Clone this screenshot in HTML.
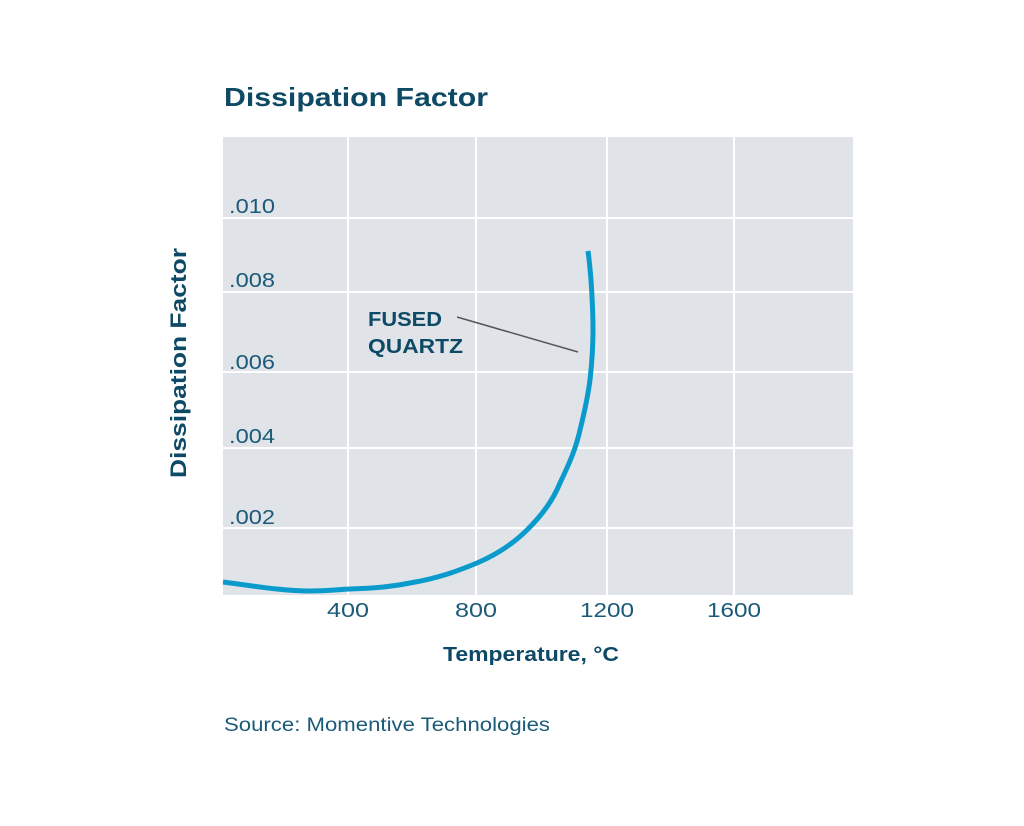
<!DOCTYPE html>
<html><head><style>
body{margin:0;background:#fff;width:1024px;height:821px;overflow:hidden;font-family:"Liberation Sans",sans-serif;}
</style></head><body>
<svg width="1024" height="821" xmlns="http://www.w3.org/2000/svg" font-family="Liberation Sans">
<text x="224" y="106" font-size="26" font-weight="bold" fill="#0e4a66" textLength="264" lengthAdjust="spacingAndGlyphs">Dissipation Factor</text>
<rect x="223" y="137" width="630" height="458" fill="#e0e4e8"/>
<g stroke="#fff" stroke-width="2">
<line x1="348" y1="137" x2="348" y2="595"/>
<line x1="476" y1="137" x2="476" y2="595"/>
<line x1="607" y1="137" x2="607" y2="595"/>
<line x1="734" y1="137" x2="734" y2="595"/>
<line x1="223" y1="218" x2="853" y2="218"/>
<line x1="223" y1="292" x2="853" y2="292"/>
<line x1="223" y1="372" x2="853" y2="372"/>
<line x1="223" y1="448" x2="853" y2="448"/>
<line x1="223" y1="528" x2="853" y2="528"/>
</g>
<g font-size="20" fill="#1b5a78">
<text x="229" y="213" textLength="46" lengthAdjust="spacingAndGlyphs">.010</text>
<text x="229" y="287" textLength="46" lengthAdjust="spacingAndGlyphs">.008</text>
<text x="229" y="369" textLength="46" lengthAdjust="spacingAndGlyphs">.006</text>
<text x="229" y="443" textLength="46" lengthAdjust="spacingAndGlyphs">.004</text>
<text x="229" y="524" textLength="46" lengthAdjust="spacingAndGlyphs">.002</text>
<text x="327" y="617" textLength="42" lengthAdjust="spacingAndGlyphs">400</text>
<text x="455" y="617" textLength="42" lengthAdjust="spacingAndGlyphs">800</text>
<text x="580" y="617" textLength="54" lengthAdjust="spacingAndGlyphs">1200</text>
<text x="707" y="617" textLength="54" lengthAdjust="spacingAndGlyphs">1600</text>
</g>
<text x="443" y="661" font-size="20" font-weight="bold" fill="#0e4a66" textLength="176" lengthAdjust="spacingAndGlyphs">Temperature, °C</text>
<text transform="translate(186,478) rotate(-90)" font-size="22" font-weight="bold" fill="#0e4a66" textLength="230" lengthAdjust="spacingAndGlyphs">Dissipation Factor</text>
<text x="368" y="326" font-size="20" font-weight="bold" fill="#0e4a66" textLength="74" lengthAdjust="spacingAndGlyphs">FUSED</text>
<text x="368" y="353" font-size="20" font-weight="bold" fill="#0e4a66" textLength="95" lengthAdjust="spacingAndGlyphs">QUARTZ</text>
<line x1="457" y1="317" x2="578" y2="352" stroke="#555" stroke-width="1.5"/>
<path d="M223,582 C260,587 285,591 310,591 C330,591 345,589 350,589 C380,588 395,586 410,583 C440,578 460,570 477,563 C500,553 515,542 527,530 C543,514 553,500 560,483 C570,462 576,448 580,430 C585,410 588,395 590,380 C592,362 593,345 593,330 C593,310 592,295 591,280 C590,268 589,258 588,251" fill="none" stroke="#0a9bcc" stroke-width="5"/>
<text x="224" y="731" font-size="19" fill="#1b5a78" textLength="326" lengthAdjust="spacingAndGlyphs">Source: Momentive Technologies</text>
</svg>
</body></html>
